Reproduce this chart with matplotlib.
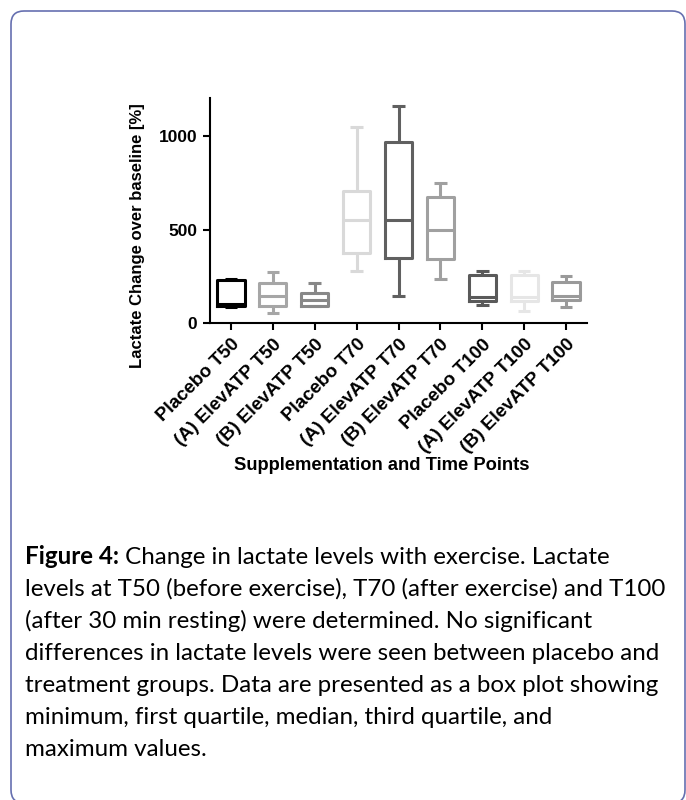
import matplotlib.pyplot as plt
import matplotlib.transforms as mtransforms
from matplotlib.patches import FancyBboxPatch

# box plot values (lactate change over baseline, %)
groups = ["Placebo T50", "(A) ElevATP T50", "(B) ElevATP T50",
          "Placebo T70", "(A) ElevATP T70", "(B) ElevATP T70",
          "Placebo T100", "(A) ElevATP T100", "(B) ElevATP T100"]
mins = [85, 53, 90, 281, 147, 236, 98, 67, 89]
q1s = [92, 95, 94, 376, 350, 346, 117, 117, 122]
medians = [103, 145, 124, 550, 550, 497, 142, 142, 148]
q3s = [232, 213, 160, 710, 971, 673, 256, 258, 222]
maxs = [238, 276, 217, 1051, 1160, 749, 281, 281, 254]
colors = ["#000000", "#a6a6a6", "#888888", "#d9d9d9", "#606060",
          "#a0a0a0", "#5a5a5a", "#e6e6e6", "#9a9a9a"]

caption = [
    "Change in lactate levels with exercise. Lactate",
    "levels at T50 (before exercise), T70 (after exercise) and T100",
    "(after 30 min resting) were determined. No significant",
    "differences in lactate levels were seen between placebo and",
    "treatment groups. Data are presented as a box plot showing",
    "minimum, first quartile, median, third quartile, and",
    "maximum values.",
]

plt.rcParams['font.family'] = ['Liberation Sans', 'DejaVu Sans']

fig = plt.figure(figsize=(6.86, 8), dpi=100)
ax = fig.add_axes([210 / 686, 1 - 323.3 / 800, 377 / 686, 225.3 / 800])

stats = []
for g, lo, a, m, b, hi in zip(groups, mins, q1s, medians, q3s, maxs):
    stats.append(dict(label=g, whislo=lo, q1=a, med=m, q3=b, whishi=hi, fliers=[]))

pos = list(range(1, len(groups) + 1))
bp = ax.bxp(stats, positions=pos, widths=0.65, showfliers=False, capwidths=0.3,
            patch_artist=False)
for i, c in enumerate(colors):
    for art in [bp['boxes'][i], bp['medians'][i]]:
        art.set_color(c)
        art.set_linewidth(2.2)
    for art in bp['whiskers'][2 * i:2 * i + 2] + bp['caps'][2 * i:2 * i + 2]:
        art.set_color(c)
        art.set_linewidth(2.2)
        art.set_solid_capstyle('butt')

ax.set_xlim(0.5, 9.5)
ax.set_ylim(0, 1205)
ax.set_yticks([0, 500, 1000])
ax.set_xticks(pos)
ax.set_xticklabels(groups, rotation=45, ha='right', va='top', rotation_mode='anchor',
                   fontsize=13.5, fontweight='bold')
# nudge the slanted labels so their ends sit under the ticks
shift = mtransforms.ScaledTranslation(-15 / 100, -2 / 100, fig.dpi_scale_trans)
for lab in ax.get_xticklabels():
    lab.set_transform(lab.get_transform() + shift)
for lab in ax.get_yticklabels():
    lab.set_fontweight('bold')
    lab.set_fontsize(12.5)
ax.tick_params(width=1.5, length=5, pad=4)
ax.spines[['top', 'right']].set_visible(False)
ax.spines[['left', 'bottom']].set_linewidth(1.5)

ax.set_ylabel("Lactate Change over baseline [%]", fontsize=12, fontweight='bold')
ax.yaxis.set_label_coords(-0.191, 0.3875)
ax.yaxis.label.set_va('center')
ax.set_xlabel("Supplementation and Time Points", fontsize=13.2, fontweight='bold')
ax.xaxis.set_label_coords((382 - 210) / 377, (323.3 - 465) / 225.3)
ax.xaxis.label.set_va('center')

# rounded frame around the figure panel
frame = FancyBboxPatch((0.11, -0.03), 6.74, 7.92, boxstyle="round,pad=0,rounding_size=0.13",
                       transform=fig.dpi_scale_trans, fill=False, edgecolor="#6670b0",
                       linewidth=1.2, clip_on=False)
fig.patches.append(frame)

# caption
cap_font = ['Lato', 'DejaVu Sans']
fs = 17.4
renderer = fig.canvas.get_renderer()
y0 = 564
head = fig.text(25 / 686, 1 - y0 / 800, "Figure 4:", fontsize=fs, fontweight='bold',
                family=cap_font, va='baseline', ha='left')
w = head.get_window_extent(renderer).width
fig.text((25 + w) / 686, 1 - y0 / 800, " " + caption[0], fontsize=fs, family=cap_font,
         va='baseline', ha='left')
for k, line in enumerate(caption[1:], start=1):
    fig.text(25 / 686, 1 - (y0 + 32 * k) / 800, line, fontsize=fs, family=cap_font,
             va='baseline', ha='left')

fig.savefig("out.png", dpi=100)
